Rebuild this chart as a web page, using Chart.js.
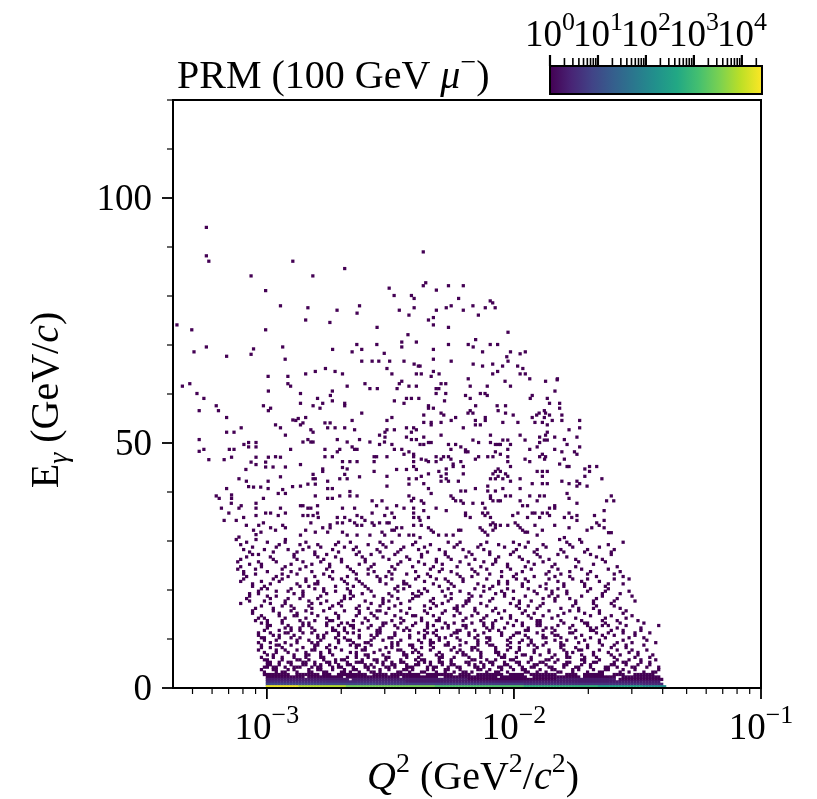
<!DOCTYPE html>
<html>
<head>
<meta charset="utf-8">
<script src="https://cdn.jsdelivr.net/npm/chart.js@4.4.0/dist/chart.umd.min.js"></script>
<style>
  html, body { margin: 0; padding: 0; background: #fff; }
  canvas { display: block; }
</style>
</head>
<body>
<canvas id="hist" width="817" height="799"></canvas>
<script>
// histogram binning
const logQ2Min = -3.4, logQ2Bin = 0.012;   // log10(Q^2) bins
const eBin = 0.5;                           // GeV per energy row
const countMax = 26300;                     // top of the colour bar

const xTicks = [1e-3, 1e-2, 1e-1];
const xTickExp = ['\u22123', '\u22122', '\u22121'];
const yTicks = [0, 50, 100];
const cbTicks = [0, 1, 2, 3, 4];

// E > 30 GeV, single entries: [log10 Q^2, E]
const highE = [
  [-3.245,94.0],[-3.245,88.2],[-3.235,87.1],[-2.895,87.1],[-3.064,84.1],[-3.005,81.1],[-2.945,78.0],[-3.364,74.1],
  [-3.304,73.1],[-3.005,73.1],[-3.245,69.6],[-3.295,68.6],[-3.054,69.2],[-3.064,68.1],[-2.936,69.6],[-3.163,67.7],
  [-2.926,67.1],[-2.995,63.6],[-2.915,63.6],
  [-2.685,85.6],[-2.814,84.1],[-2.505,81.6],[-2.485,80.1],[-2.415,80.1],[-2.404,79.5],[-2.834,77.6],[-2.716,77.1],
  [-2.625,78.0],[-2.635,76.5],[-2.464,77.1],[-2.404,77.6],[-2.425,76.1],[-2.843,75.1],[-2.745,74.6],[-2.554,73.6],
  [-2.429,72.1],[-2.454,70.6],[-2.395,70.6],[-2.454,69.6],[-2.636,70.1],[-2.555,70.1],[-2.734,69.1],[-2.616,69.1],
  [-2.655,68.6],[-2.525,68.3],[-2.616,66.7],[-2.574,66.7],[-2.547,66.7],[-2.503,66.7],[-2.445,66.7],[-2.404,66.1],
  [-2.387,65.7],[-2.763,65.2],[-2.804,64.6],[-2.724,64.6],[-2.843,64.1],[-2.694,64.1],[-2.514,65.2],[-2.494,64.1],
  [-2.395,64.1],
  [-2.367,89.0],[-2.357,82.7],[-2.367,82.1],[-2.314,81.2],[-2.265,82.1],[-2.205,82.1],[-2.224,79.5],[-2.096,79.0],
  [-2.086,78.6],[-2.314,77.1],[-2.274,77.6],[-2.254,78.0],[-2.205,77.1],[-2.166,78.0],[-2.116,77.6],[-2.076,77.6],
  [-2.144,76.1],[-2.346,75.1],[-2.326,75.6],[-2.326,74.1],[-2.265,73.6],[-2.024,72.6],[-2.155,71.1],[-2.326,69.1],
  [-2.265,70.1],[-2.185,70.1],[-2.165,69.6],[-2.096,70.1],[-2.066,70.1],[-2.127,68.6],[-2.014,68.6],[-1.975,68.2],
  [-1.954,68.6],[-2.029,67.6],[-2.326,67.1],[-2.254,66.7],[-2.165,66.1],[-2.127,65.7],[-2.086,66.1],[-2.046,65.7],
  [-2.024,66.7],[-1.985,65.7],[-1.964,65.2],[-2.380,65.7],[-2.326,64.6],[-2.303,64.1],[-2.375,64.1],[-2.335,63.6],
  [-2.086,64.1],[-2.066,64.6],[-1.975,64.1],[-1.954,64.1],[-2.185,63.1],[-1.936,63.1],[-1.824,63.1],
  [-3.342,61.6],[-3.312,62.1],[-3.283,60.1],[-3.255,59.1],[-3.274,56.6],[-3.205,57.6],[-3.196,56.6],[-3.163,55.2],
  [-3.163,52.2],[-3.133,52.2],[-3.104,53.1],[-3.274,50.7],[-3.274,48.3],[-3.255,48.7],[-3.152,48.7],[-3.133,48.7],
  [-3.235,46.6],[-3.173,46.6],[-3.143,47.1],[-3.093,49.7],[-3.074,50.1],[-3.074,49.2],[-3.044,50.1],[-3.044,49.2],
  [-3.064,46.1],[-3.044,47.1],[-3.085,44.6],[-3.044,45.6],[-3.005,46.1],[-2.994,47.1],[-2.994,60.6],[-2.915,62.1],
  [-2.904,61.6],[-3.014,57.6],[-2.994,56.6],[-2.985,57.1],[-2.965,53.7],[-2.945,53.1],[-2.925,51.6],[-2.895,54.7],
  [-2.904,48.7],[-2.965,47.2],[-2.945,47.1],[-3.005,45.1],[-2.975,45.1],[-2.925,45.1],[-2.945,43.1],[-3.113,42.7],
  [-3.083,42.2],[-2.995,42.2],[-3.074,41.1],[-3.054,41.0],[-3.025,41.0],[-2.995,40.7],[-2.896,41.1],[-3.163,40.7],
  [-2.936,40.5],[-2.925,39.7],[-2.954,39.7],[-3.205,39.2],[-3.193,38.7],[-3.143,39.4],[-3.143,38.7],[-3.014,38.7],
  [-3.144,37.7],[-3.184,36.7],[-3.104,37.2],[-3.113,36.7],[-3.044,37.7],[-3.044,36.7],[-3.154,35.7],[-3.005,35.7],
  [-2.985,35.7],[-2.954,35.2],[-2.945,36.7],[-2.925,35.7],[-3.173,34.2],[-3.124,34.2],[-3.094,34.8],[-3.044,35.2],
  [-3.083,33.2],[-3.033,33.2],[-3.014,33.7],[-2.985,32.7],[-2.965,32.2],[-2.936,33.2],[-2.925,32.7],[-3.054,32.2],
  [-3.044,31.3],[-3.024,31.8],[-3.113,30.8],[-3.124,30.3],[-2.925,30.3],[-3.044,30.3],
  [-2.675,61.6],[-2.603,62.1],[-2.583,61.1],[-2.553,61.1],[-2.464,62.1],[-2.454,62.6],[-2.473,61.1],[-2.425,61.6],
  [-2.395,61.6],[-2.864,60.1],[-2.743,59.7],[-2.735,60.6],[-2.795,59.1],[-2.864,58.1],[-2.813,57.6],[-2.774,58.1],
  [-2.785,57.1],[-2.735,58.6],[-2.685,58.1],[-2.685,57.6],[-2.484,58.6],[-2.445,58.1],[-2.435,59.1],[-2.415,59.1],
  [-2.385,59.1],[-2.616,56.1],[-2.873,55.0],[-2.843,55.2],[-2.883,54.6],[-2.854,54.1],[-2.864,53.7],[-2.765,54.1],
  [-2.744,54.1],[-2.754,53.1],[-2.724,53.1],[-2.685,53.1],[-2.655,54.6],[-2.645,52.7],[-2.514,54.6],[-2.494,55.2],
  [-2.822,52.7],[-2.813,52.2],[-2.522,52.2],[-2.514,52.7],[-2.484,52.7],[-2.435,53.1],[-2.406,53.1],[-2.395,52.7],
  [-2.415,52.2],[-2.544,51.6],[-2.522,51.2],[-2.854,50.2],[-2.834,50.7],[-2.822,50.2],[-2.813,50.2],[-2.715,50.7],
  [-2.675,50.2],[-2.625,50.7],[-2.583,50.2],[-2.544,49.7],[-2.524,50.2],[-2.435,51.2],[-2.415,50.7],[-2.395,50.7],
  [-2.494,49.7],[-2.765,48.7],[-2.715,48.2],[-2.705,48.7],[-2.655,49.2],[-2.645,48.7],[-2.635,48.7],[-2.484,48.7],
  [-2.454,48.7],[-2.425,48.2],[-2.445,47.7],[-2.406,47.7],[-2.765,47.2],[-2.735,47.2],[-2.694,46.2],[-2.664,46.2],
  [-2.635,46.2],[-2.566,47.2],[-2.556,47.2],[-2.566,46.2],[-2.514,47.2],[-2.406,47.2],[-2.406,46.2],[-2.864,45.6],
  [-2.694,45.0],[-2.675,44.7],[-2.774,44.7],[-2.774,44.2],[-2.813,43.6],[-2.813,42.7],[-2.804,42.7],[-2.754,42.2],
  [-2.705,42.7],[-2.685,43.6],[-2.675,42.7],[-2.625,43.1],[-2.566,44.2],[-2.514,43.2],[-2.475,44.6],[-2.435,44.6],
  [-2.406,45.2],[-2.395,44.6],[-2.395,42.7],[-2.425,42.7],[-2.864,41.2],[-2.834,41.6],[-2.804,41.6],[-2.754,40.7],
  [-2.735,40.7],[-2.664,40.1],[-2.514,41.2],[-2.425,41.6],[-2.804,39.2],[-2.754,38.7],[-2.735,38.7],[-2.705,39.2],
  [-2.664,39.2],[-2.635,39.2],[-2.425,39.2],[-2.406,38.7],[-2.415,38.2],[-2.574,38.2],[-2.534,38.2],[-2.864,37.2],
  [-2.854,37.2],[-2.834,36.7],[-2.822,36.7],[-2.795,37.2],[-2.694,36.7],[-2.645,36.7],[-2.556,37.2],[-2.514,36.7],
  [-2.475,37.2],[-2.445,36.7],[-2.406,36.7],[-2.854,35.2],[-2.834,35.2],[-2.813,35.2],[-2.795,35.7],[-2.715,34.8],
  [-2.685,34.8],[-2.664,34.2],[-2.635,35.2],[-2.616,34.8],[-2.603,34.2],[-2.574,35.7],[-2.523,35.2],[-2.494,35.7],
  [-2.484,34.8],[-2.406,35.7],[-2.406,34.8],[-2.385,34.8],[-2.822,33.7],[-2.792,34.8],[-2.774,32.7],[-2.744,33.3],
  [-2.744,32.7],[-2.715,33.7],[-2.694,33.7],[-2.645,33.7],[-2.635,33.2],[-2.616,33.2],[-2.574,33.7],[-2.566,33.2],
  [-2.544,33.7],[-2.514,33.7],[-2.505,33.7],[-2.475,32.7],[-2.454,32.7],[-2.406,33.2],[-2.864,31.2],[-2.843,32.2],
  [-2.804,31.8],[-2.754,31.8],[-2.694,31.8],[-2.675,31.2],[-2.635,31.2],[-2.583,31.2],[-2.534,31.8],[-2.523,31.2],
  [-2.494,32.2],[-2.484,32.2],[-2.464,31.2],[-2.425,31.2],[-2.406,31.2],
  [-2.295,62.1],[-2.276,62.1],[-2.177,61.6],[-2.108,61.6],[-2.036,62.6],[-2.014,61.6],[-2.315,61.1],[-2.304,61.1],
  [-2.315,60.1],[-2.276,60.1],[-2.196,59.7],[-2.177,59.1],[-2.136,60.1],[-2.117,60.1],[-2.108,59.7],[-2.155,57.6],
  [-2.068,57.6],[-2.034,57.6],[-1.926,59.7],[-1.934,59.1],[-2.281,58.6],[-2.346,57.6],[-2.346,57.1],[-2.326,57.1],
  [-2.365,55.7],[-2.295,56.1],[-2.284,55.7],[-2.177,56.6],[-2.186,56.1],[-2.166,56.1],[-2.064,56.6],[-2.034,56.1],
  [-2.003,55.7],[-1.908,55.7],[-1.898,56.1],[-1.877,56.6],[-2.365,54.2],[-2.335,54.2],[-2.335,53.7],[-2.295,54.2],
  [-2.254,54.6],[-2.236,55.2],[-2.205,53.1],[-2.156,54.6],[-2.156,53.7],[-2.136,53.7],[-2.116,55.2],[-2.116,54.6],
  [-2.045,54.2],[-1.984,54.2],[-1.926,55.2],[-1.915,54.2],[-1.877,55.2],[-1.885,54.2],[-2.365,51.2],[-2.295,51.6],
  [-2.166,50.6],[-2.143,50.1],[-2.095,51.6],[-2.095,50.1],[-2.064,49.7],[-2.045,50.6],[-2.025,50.6],[-2.014,49.7],
  [-1.975,51.6],[-1.955,50.6],[-1.896,51.2],[-1.896,50.1],[-1.877,50.6],[-2.346,50.1],[-2.380,49.7],[-2.365,49.7],
  [-2.335,50.1],[-2.265,49.7],[-2.236,49.7],[-2.215,49.2],[-2.196,48.6],[-2.196,48.2],[-2.186,48.2],[-2.255,48.7],
  [-2.075,49.7],[-2.055,49.7],[-2.025,48.7],[-1.936,48.7],[-1.906,49.2],[-2.075,48.2],[-2.055,47.7],[-2.356,46.5],
  [-2.346,46.2],[-2.315,47.2],[-2.315,46.2],[-2.295,46.7],[-2.285,47.2],[-2.265,47.2],[-2.255,46.7],[-2.246,45.7],
  [-2.215,46.2],[-2.156,46.7],[-2.143,47.2],[-2.106,47.2],[-2.085,47.2],[-2.025,47.2],[-2.025,46.2],[-1.955,46.7],
  [-1.936,46.2],[-1.896,47.2],[-1.885,47.7],[-1.876,46.7],[-2.375,46.7],[-2.304,44.2],[-2.274,44.7],[-2.274,43.7],
  [-2.274,42.7],[-2.295,43.2],[-2.295,42.2],[-2.265,42.2],[-2.246,45.2],[-2.225,42.2],[-2.205,45.2],[-2.205,43.7],
  [-2.064,44.7],[-2.075,44.2],[-2.055,44.2],[-2.085,43.7],[-2.095,42.7],[-2.075,42.7],[-2.064,43.2],[-2.045,42.7],
  [-2.034,43.7],[-2.025,43.2],[-2.014,45.2],[-2.014,42.2],[-1.975,42.7],[-1.906,44.2],[-1.885,44.2],[-1.885,43.2],
  [-2.375,43.2],[-2.365,41.7],[-2.346,43.7],[-2.346,40.7],[-2.335,39.7],[-2.215,40.2],[-2.196,40.2],[-2.156,40.7],
  [-2.106,41.2],[-2.106,40.2],[-2.095,39.2],[-2.075,40.2],[-2.045,40.7],[-2.034,39.2],[-2.014,39.2],[-1.975,40.7],
  [-1.936,39.2],[-1.896,39.2],[-1.877,39.2],[-1.885,41.7],[-1.926,41.7],[-2.375,38.2],[-2.365,37.7],[-2.255,39.2],
  [-2.246,38.7],[-2.236,38.2],[-2.215,38.2],[-2.205,37.7],[-2.166,37.7],[-2.127,37.7],[-2.117,36.7],[-2.095,38.7],
  [-2.085,38.2],[-2.064,38.2],[-2.055,38.2],[-1.975,38.2],[-1.965,37.2],[-1.945,37.2],[-1.906,38.2],[-2.365,36.2],
  [-2.346,34.8],[-2.315,36.7],[-2.274,36.2],[-2.196,35.7],[-2.196,35.2],[-2.177,34.8],[-2.127,35.7],[-2.117,35.2],
  [-2.106,35.7],[-2.095,34.8],[-2.085,33.7],[-2.075,33.3],[-2.005,35.2],[-1.984,35.7],[-1.945,34.8],[-1.915,35.7],
  [-1.896,34.8],[-1.885,35.7],[-2.380,34.2],[-1.926,35.7],[-2.375,33.2],[-2.346,32.7],[-2.335,32.2],[-2.326,31.8],
  [-2.305,31.2],[-2.274,31.2],[-2.246,31.2],[-2.224,32.2],[-2.215,32.2],[-2.137,32.7],[-2.128,32.2],[-2.095,33.3],
  [-2.085,32.2],[-2.075,32.7],[-2.055,33.2],[-2.025,33.2],[-1.995,33.7],[-1.984,33.2],[-1.975,32.7],[-1.965,32.2],
  [-1.955,31.8],[-1.945,31.8],[-1.915,33.2],[-1.906,31.2],[-1.885,32.2],[-2.380,30.7],[-2.106,31.2],[-2.117,31.8],
  [-1.872,62.6],[-1.825,62.9],[-1.834,60.6],[-1.865,59.1],[-1.856,58.1],[-1.815,58.1],[-1.815,57.1],[-1.872,56.1],
  [-1.856,55.7],[-1.806,55.7],[-1.845,54.6],[-1.806,54.6],[-1.734,54.6],[-1.865,53.7],[-1.734,53.1],[-1.777,52.7],
  [-1.865,52.2],[-1.872,51.6],[-1.835,51.2],[-1.796,50.7],[-1.865,50.6],[-1.745,51.2],[-1.785,49.7],[-1.734,49.2],
  [-1.835,48.7],[-1.806,48.2],[-1.755,48.2],[-1.745,47.7],[-1.796,46.7],[-1.872,47.2],[-1.815,45.7],[-1.785,45.2],
  [-1.777,45.2],[-1.694,45.2],[-1.665,45.2],[-1.713,44.7],[-1.694,44.2],[-1.865,44.2],[-1.713,43.2],[-1.644,42.7],
  [-1.806,42.2],[-1.777,41.7],[-1.745,42.2],[-1.734,41.7],[-1.745,41.2],[-1.704,41.2],[-1.865,41.7],[-1.785,39.7],
  [-1.777,38.7],[-1.606,39.2],[-1.625,38.2],[-1.596,38.2],[-1.745,37.7],[-1.835,37.2],[-1.835,36.7],[-1.856,36.7],
  [-1.865,35.7],[-1.856,35.2],[-1.796,34.8],[-1.777,35.7],[-1.766,34.8],[-1.745,35.2],[-1.745,34.2],[-1.674,35.2],
  [-1.635,36.2],[-1.635,34.2],[-1.665,33.7],[-1.655,33.2],[-1.635,32.7],[-1.685,32.7],[-1.704,32.2],[-1.617,31.7],
  [-1.606,31.7],[-1.835,33.2],[-1.777,32.7],[-1.796,30.7],[-1.815,30.3],[-1.734,30.3]
];

// energy rows 0..5 (0-3 GeV): runs of bins [first bin, last bin, count]
const lowRows = [
  [[33,43,20000],[44,59,8000],[60,89,3000],[90,119,1500],[120,144,700],[145,159,350],[160,167,150]],
  [[33,69,8],[70,119,6],[120,159,4],[160,166,3]],
  [[33,79,3],[80,165,2]],
  [[33,60,2],[62,100,2],[101,130,1],[131,150,2],[152,166,1]],
  [[33,45,1],[47,58,1],[60,77,1],[79,90,1],[93,110,1],[112,120,1],[123,138,1],[140,150,1],[153,165,1]],
  [[32,40,1],[43,50,1],[52,54,1],[57,66,1],[69,73,1],[75,84,1],[87,95,1],[98,101,1],[104,112,1],[115,119,1],[122,130,1],[134,137,1],[140,146,1],[150,153,1],[157,163,1]]
];

// energy rows 6..59 (3-30 GeV): occupied log10 Q^2 bins, one entry each
const midRows = [
  [32,36,38,39,43,47,48,52,53,58,59,61,64,68,69,71,77,78,81,85,86,90,93,96,99,100,102,107,110,111,114,120,121,124,127,131,132,136,141,145,146,152,155,160,163,164],
  [31,35,36,40,42,47,50,51,55,59,62,63,67,71,74,79,80,82,87,89,93,94,98,104,105,108,112,116,119,120,125,129,130,136,138,143,147,148,153,157,165],
  [32,33,35,36,39,42,43,44,48,50,51,55,57,58,62,66,67,69,73,74,76,80,81,82,87,89,90,94,97,98,103,104,106,111,112,115,119,122,123,128,129,133,137,138,142,147,148,151,156,157,161,165],
  [33,34,37,41,45,46,49,51,54,57,60,61,66,68,72,75,76,80,83,84,88,92,95,96,101,103,106,109,113,114,118,123,124,127,133,134,139,142,149,150,154,158,162],
  [33,34,37,40,41,45,46,49,53,54,56,60,63,64,65,70,72,75,78,79,84,86,88,91,92,95,100,101,105,108,109,113,117,118,121,125,126,130,134,135,140,143,144,150,153,154,159,162],
  [32,33,38,43,44,47,52,56,58,59,65,69,70,73,78,83,85,86,91,95,102,103,107,110,115,116,122,127,128,131,139,140,145,151,155,159,164],
  [31,35,38,42,46,51,52,60,63,67,73,74,80,84,91,92,96,101,105,112,113,117,122,129,134,135,140,144,150,157,162],
  [33,35,42,46,47,51,55,63,66,67,72,79,80,85,90,92,99,100,105,111,113,119,120,125,130,134,139,143,149,152,158,163],
  [32,36,40,46,51,54,61,63,69,74,79,82,84,91,97,99,105,110,111,117,123,128,134,136,143,148,155,158],
  [30,36,39,43,48,49,54,58,65,66,71,77,78,83,88,95,98,102,104,110,114,118,123,128,133,138,139,145,151,156,161],
  [31,34,38,45,49,53,56,63,66,73,75,82,85,89,96,102,103,110,115,118,124,132,137,141,149,154],
  [31,36,37,41,49,50,54,61,63,64,68,75,77,81,82,88,93,94,98,104,108,109,114,121,123,126,132,133,141,146,150,154,160],
  [30,34,39,43,48,50,57,62,66,67,75,77,85,88,89,94,100,104,107,115,118,122,127,132,138,145,151,156,164],
  [32,36,43,47,51,57,60,61,68,72,78,84,88,91,98,104,108,114,119,122,130,134,140,145,153,161],
  [31,32,37,41,44,50,52,56,59,64,69,74,75,81,86,91,93,97,103,107,108,115,121,126,127,132,137,142,147,155,160],
  [30,35,37,42,50,52,57,64,68,70,76,81,86,90,95,101,104,112,116,120,126,130,131,139,146,150,157],
  [30,34,39,40,45,48,53,57,60,62,70,71,76,84,87,89,96,97,101,106,112,117,118,124,129,135,136,144,148,153,157,162],
  [32,37,41,44,49,55,56,59,64,70,71,79,81,86,90,97,98,103,108,111,120,121,126,130,137,142,143,149,153,159],
  [33,39,41,44,48,55,59,62,67,71,77,80,87,92,94,100,107,109,113,121,127,129,135,142,144,151,159],
  [33,34,40,45,47,53,57,61,62,68,72,76,82,87,89,94,99,100,106,109,116,119,124,125,131,136,141,146,148,154,165],
  [31,33,38,45,47,53,58,60,65,72,73,78,83,87,93,96,102,106,109,114,119,124,125,133,140,141,147,152,160],
  [29,33,38,44,49,54,55,62,67,75,79,85,90,91,99,105,110,117,124,125,132,139,146,151,158],
  [30,32,39,46,53,57,66,70,78,85,91,100,106,112,115,122,129,137,147,154],
  [31,37,42,43,50,57,63,69,76,82,83,89,96,102,107,115,121,126,131,142,149,156],
  [28,37,43,48,56,64,68,73,80,87,92,98,104,111,119,123,133,140,145,153],
  [28,35,41,46,52,59,64,70,71,78,86,93,97,103,109,113,120,128,135,138,145,154],
  [29,35,42,48,54,63,67,74,81,88,96,97,103,110,118,124,132,138,143,152],
  [31,38,41,47,55,58,64,71,76,86,90,97,99,107,117,121,125,136,144,150],
  [24,34,39,48,51,57,68,72,78,89,92,100,105,115,118,126,137,143,149],
  [27,32,39,47,53,58,66,72,74,81,88,94,100,101,108,118,122,130,137,143,150,157],
  [26,34,40,44,50,59,61,72,77,82,89,95,101,109,116,126,130,135,144,151],
  [27,33,36,45,51,59,62,69,75,83,84,93,102,105,113,120,128,131,139,146,156],
  [27,30,42,45,53,61,65,74,82,85,95,101,110,113,124,129,134,146,152],
  [30,36,40,45,52,56,61,68,77,84,87,92,98,106,112,116,123,129,134,141,147,155],
  [31,33,41,49,52,60,67,76,79,86,94,103,108,114,121,127,131,142,148],
  [28,32,44,47,56,62,66,77,81,91,96,106,109,119,125,133,140,147],
  [28,34,43,49,50,60,65,73,79,80,89,95,104,111,114,119,127,133,140,148,153],
  [24,31,37,46,50,59,64,71,79,86,94,99,111,114,121,131,139,145],
  [25,35,38,46,55,58,63,71,75,83,90,93,99,107,117,120,128,136,141,150,155],
  [26,36,40,49,54,60,70,73,84,88,98,102,112,116,123,130,135,144,153],
  [25,29,38,43,52,63,67,75,80,87,97,104,108,117,127,132,141,150],
  [25,33,41,48,55,62,69,74,83,91,95,103,112,119,128,135,142,152],
  [23,29,38,44,53,61,67,76,88,92,102,107,115,122,131,139,148],
  [24,31,39,46,54,60,68,75,82,89,97,105,114,120,129,137,151],
  [27,31,41,48,54,64,69,77,86,92,101,109,114,123,130,143],
  [23,30,36,45,51,58,66,78,84,90,98,106,110,121,126,138,147],
  [24,35,43,52,58,66,74,81,90,95,103,110,119,128,137,146],
  [26,34,42,50,56,65,72,80,85,94,100,111,118,125,134,144],
  [28,30,42,49,53,63,68,76,85,93,102,108,115,124,131,142,149],
  [27,35,43,49,57,64,71,77,87,93,101,108,116,123,133,140,149],
  [25,32,40,45,55,62,70,78,84,91,99,106,117,124,132,141,150],
  [28,36,47,51,59,63,73,79,86,96,104,113,120,127,136,145],
  [24,37,44,50,56,67,72,82,88,97,105,111,118,126,135,148],
  [26,33,39,46,57,61,71,75,83,94,98,107,116,121,134,139,153]
];

// viridis colour map
const viridisStops = ['#440154','#482475','#414487','#355f8d','#2a788e','#21918c',
                      '#22a884','#44bf70','#7ad151','#bddf26','#fde725'];
function hexRgb(h) { return [1, 3, 5].map(k => parseInt(h.substr(k, 2), 16)); }
function viridis(t) {
  t = Math.max(0, Math.min(1, t));
  const p = t * 10, i = Math.min(9, Math.floor(p)), f = p - i;
  const a = hexRgb(viridisStops[i]), b = hexRgb(viridisStops[i + 1]);
  return 'rgb(' + a.map((v, k) => Math.round(v + (b[k] - v) * f)).join(',') + ')';
}
function countColor(c) { return viridis(Math.log10(c) / Math.log10(countMax)); }

function binQ2(i) { return Math.pow(10, logQ2Min + logQ2Bin * (i + 0.5)); }
function rowE(j) { return eBin * (j + 0.5); }

let points = [];
highE.forEach(p => points.push({ x: Math.pow(10, p[0]), y: p[1], c: 1 }));
midRows.forEach((row, k) => row.forEach(i => points.push({ x: binQ2(i), y: rowE(k + 6), c: 1 })));
for (let j = lowRows.length - 1; j >= 0; j--) {
  lowRows[j].forEach(([i0, i1, c]) => {
    for (let i = i0; i <= i1; i++) points.push({ x: binQ2(i), y: rowE(j), c: c });
  });
}

const serif = '"Liberation Serif", "Times New Roman", "DejaVu Serif", serif';
function runFont(f, size) {
  const s = /[\^_]/.test(f) ? size * 0.7 : size;
  return (f.includes('i') ? 'italic ' : '') + s + 'px ' + serif;
}
function drawRich(ctx, runs, x, y, size, align) {
  let w = 0;
  runs.forEach(([t, f]) => { ctx.font = runFont(f, size); w += ctx.measureText(t).width; });
  let cx = align === 'center' ? x - w / 2 : align === 'right' ? x - w : x;
  ctx.textAlign = 'left';
  ctx.textBaseline = 'alphabetic';
  runs.forEach(([t, f]) => {
    ctx.font = runFont(f, size);
    const dy = f.includes('^') ? -size * 0.42 : f.includes('_') ? size * 0.22 : 0;
    ctx.fillText(t, cx, y + dy);
    cx += ctx.measureText(t).width;
  });
}
function tick(ctx, x1, y1, x2, y2, w) {
  ctx.lineWidth = w;
  ctx.beginPath(); ctx.moveTo(x1, y1); ctx.lineTo(x2, y2); ctx.stroke();
}

const axesPlugin = {
  id: 'axesPlugin',
  afterDraw(chart) {
    const { ctx, chartArea: a, scales: { x, y } } = chart;
    const fs = 37, ft = 40;
    ctx.save();
    ctx.strokeStyle = '#000';
    ctx.fillStyle = '#000';

    // y ticks
    for (let v = 0; v <= 120; v += 10) {
      const py = y.getPixelForValue(v);
      const major = yTicks.includes(v);
      tick(ctx, a.left, py, a.left - (major ? 11 : 6), py, major ? 1.8 : 1.2);
    }
    yTicks.forEach(v => drawRich(ctx, [[String(v), '']], a.left - 21, y.getPixelForValue(v) + 12, fs, 'right'));

    // x ticks
    for (let e = -4; e <= -1; e++) {
      for (let m = 1; m <= 9; m++) {
        const v = m * Math.pow(10, e);
        if (v < x.min * 0.999 || v > x.max * 1.001) continue;
        const px = x.getPixelForValue(v);
        tick(ctx, px, a.bottom, px, a.bottom + (m === 1 ? 11 : 6), m === 1 ? 1.8 : 1.2);
      }
    }
    xTicks.forEach((v, k) => drawRich(ctx, [['10', ''], [xTickExp[k], '^']], x.getPixelForValue(v), 739, fs, 'center'));

    // frame
    ctx.lineWidth = 2;
    ctx.strokeRect(a.left, a.top, a.right - a.left, a.bottom - a.top);

    // axis titles
    drawRich(ctx, [['Q', 'i'], ['2', '^'], [' (GeV', ''], ['2', '^'], ['/', ''], ['c', 'i'], ['2', '^'], [')', '']],
      (a.left + a.right) / 2 + 6, 789, ft, 'center');
    ctx.save();
    ctx.translate(58, (a.top + a.bottom) / 2 + 6);
    ctx.rotate(-Math.PI / 2);
    drawRich(ctx, [['E', ''], ['\u03b3', 'i_'], [' (GeV/', ''], ['c', 'i'], [')', '']], 0, 0, ft, 'center');
    ctx.restore();

    // title
    drawRich(ctx, [['PRM (100 GeV ', ''], ['\u03bc', 'i'], ['\u2212', '^'], [')', '']], 177, 88, ft, 'left');

    // colour bar
    const cb = { l: 550, r: 762, t: 66, b: 94 };
    const g = ctx.createLinearGradient(cb.l, 0, cb.r, 0);
    viridisStops.forEach((c, k) => g.addColorStop(k / 10, c));
    ctx.fillStyle = g;
    ctx.fillRect(cb.l, cb.t, cb.r - cb.l, cb.b - cb.t);
    const cbX = v => cb.l + Math.log10(v) / Math.log10(countMax) * (cb.r - cb.l);
    for (let e = 0; e <= 4; e++) {
      for (let m = 1; m <= 9; m++) {
        const v = m * Math.pow(10, e);
        if (v > countMax) continue;
        const px = cbX(v);
        tick(ctx, px, cb.t, px, cb.t - (m === 1 ? 11 : 8), m === 1 ? 2.2 : 1.6);
      }
    }
    ctx.lineWidth = 2;
    ctx.strokeRect(cb.l, cb.t, cb.r - cb.l, cb.b - cb.t);
    ctx.fillStyle = '#000';
    cbTicks.forEach(e => drawRich(ctx, [['10', ''], [String(e), '^']], cbX(Math.pow(10, e)), 46, fs, 'center'));
    ctx.restore();
  }
};

new Chart(document.getElementById('hist'), {
  type: 'scatter',
  data: {
    datasets: [{
      data: points,
      pointStyle: 'rect',
      pointRadius: 2.3,
      pointHoverRadius: 2.3,
      pointBorderWidth: 0,
      borderWidth: 0,
      clip: 0,
      pointBackgroundColor: ctx => countColor(ctx.raw ? ctx.raw.c : 1)
    }]
  },
  options: {
    responsive: false,
    animation: false,
    events: [],
    layout: { padding: { left: 173, right: 56, top: 100, bottom: 111 } },
    plugins: { legend: { display: false }, tooltip: { enabled: false } },
    scales: {
      x: { type: 'logarithmic', min: Math.pow(10, -3.38), max: 0.1, display: false },
      y: { type: 'linear', min: 0, max: 120, display: false }
    }
  },
  plugins: [axesPlugin]
});
</script>
</body>
</html>
